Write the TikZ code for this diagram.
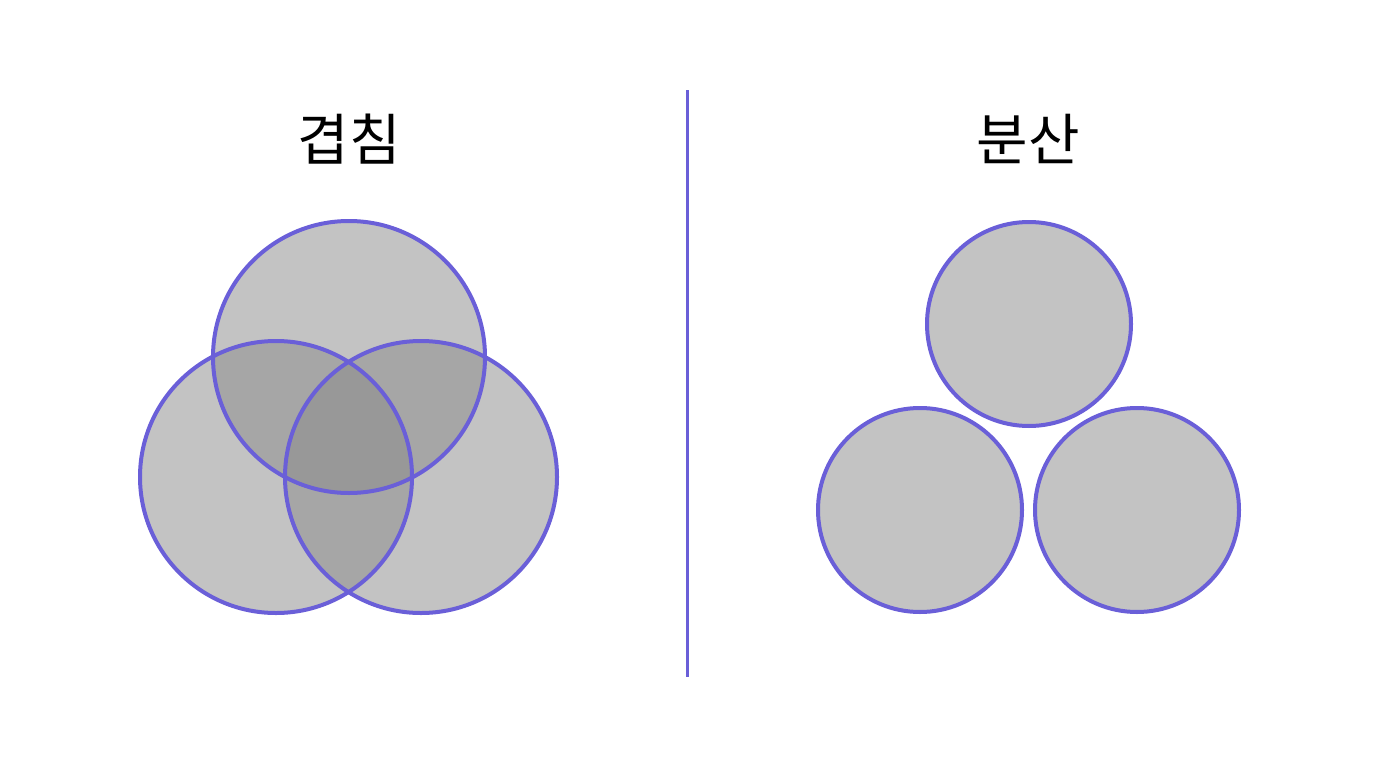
\documentclass[tikz,border=0pt]{standalone}
\usepackage{fontspec}
\newfontfamily\kofont{Noto Sans CJK KR}
\definecolor{rim}{HTML}{6A5FD8}
\tikzset{blob/.style={circle, fill=black!45, fill opacity=0.52, inner sep=0pt},
         ring/.style={circle, draw=rim, line width=4pt, inner sep=0pt},
         title/.style={font=\kofont\fontsize{56}{64}\selectfont, text=black}}

\begin{document}
\begin{tikzpicture}[x=1pt, y=-1pt]
    \useasboundingbox (0,0) rectangle (1376,768);
    \fill[white] (0,0) rectangle (1376,768);
    % overlapping
    \node[title] (overlap) at (349,139) {겹침};
    \foreach \n/\x/\y in {top/349/357, left/276/477, right/421/477}
    \node[blob, minimum size=272pt] (o-\n) at (\x,\y) {};
    \foreach \n in {top, left, right}
    \node[ring, minimum size=272pt] at (o-\n) {};
    % divider
    \coordinate (d1) at (687,90);
    \coordinate (d2) at (687,677);
    \draw[rim, line width=3pt] (d1) -- (d2);
    % spread
    \node[title] (spread) at (1028,139) {분산};
    \foreach \n/\x/\y in {top/1029/324, left/920/510, right/1137/510}
    \node[blob, minimum size=204pt] (s-\n) at (\x,\y) {};
    \foreach \n in {top, left, right}
    \node[ring, minimum size=204pt] at (s-\n) {};
    \end{tikzpicture}
\end{document}
